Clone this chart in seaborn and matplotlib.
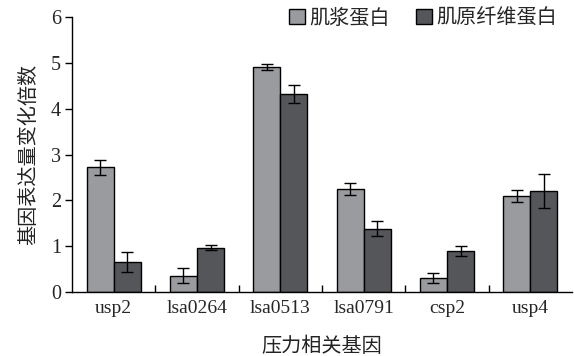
import numpy as np
import pandas as pd
import matplotlib
matplotlib.use("Agg")
import matplotlib.pyplot as plt
from matplotlib.container import BarContainer
import seaborn as sns

genes = ["usp2", "lsa0264", "lsa0513", "lsa0791", "csp2", "usp4"]
series = ["肌浆蛋白", "肌原纤维蛋白"]
sarco_vals = [2.72, 0.35, 4.92, 2.24, 0.29, 2.09]
sarco_err = [0.16, 0.16, 0.07, 0.13, 0.11, 0.13]
myofib_vals = [0.65, 0.96, 4.32, 1.38, 0.89, 2.21]
myofib_err = [0.22, 0.05, 0.20, 0.16, 0.11, 0.37]
yticks = [0, 1, 2, 3, 4, 5, 6]

sns.set_theme(style="ticks")
plt.rcParams["font.family"] = ["Liberation Serif", "Noto Sans CJK SC"]
cjk = ["Noto Sans CJK SC", "DejaVu Sans"]

df = pd.DataFrame({
    "gene": genes * 2,
    "group": [series[0]] * len(genes) + [series[1]] * len(genes),
    "value": sarco_vals + myofib_vals,
})
errs = [sarco_err, myofib_err]
vals = [sarco_vals, myofib_vals]

fig = plt.figure(figsize=(5.74, 3.56), dpi=100)
ax = fig.add_axes([0.1254, 0.181, 0.8711, 0.770])
palette = ["#9a9b9f", "#55565a"]
sns.barplot(data=df, x="gene", y="value", hue="group", order=genes,
            hue_order=series, palette=palette, errorbar=None, width=0.65,
            edgecolor="black", linewidth=1.0, saturation=1, ax=ax)

bar_groups = [c for c in ax.containers if isinstance(c, BarContainer)]
for k, cont in enumerate(bar_groups):
    for j, patch in enumerate(cont.patches):
        xc = patch.get_x() + patch.get_width() / 2
        ax.errorbar(xc, vals[k][j], yerr=errs[k][j], fmt="none",
                    ecolor="black", elinewidth=1.0, capsize=4, capthick=1.0)

ax.set_xlim(-0.5, len(genes) - 0.5)
ax.set_ylim(0, 6)
ax.set_yticks(yticks)
ax.set_yticklabels([str(t) for t in yticks], fontsize=14.5)
ax.set_xticks(range(len(genes)))
ax.set_xticklabels(genes, fontsize=14)
ax.tick_params(axis="x", length=0, pad=6)
ax.set_xticks(np.arange(0.5, len(genes) - 0.5, 1.0), minor=True)
ax.tick_params(axis="x", which="minor", direction="in", length=5, width=1.0, color="black")
ax.tick_params(axis="y", direction="out", length=5, width=1.0, color="black", pad=3)
for s in ["top", "right"]:
    ax.spines[s].set_visible(False)
for s in ["left", "bottom"]:
    ax.spines[s].set_linewidth(1.0)
    ax.spines[s].set_color("black")

ax.set_ylabel("基因表达量变化倍数", fontsize=14.5, family=cjk, color="#222222", labelpad=8)
ax.set_xlabel("压力相关基因", fontsize=14.5, family=cjk, color="#222222", labelpad=14)

leg = ax.legend(loc="center right", bbox_to_anchor=(557 / 574, 1 - 18 / 356),
                bbox_transform=fig.transFigure, ncol=2, frameon=False,
                prop={"family": cjk, "size": 14.5}, handlelength=0.8, handleheight=0.75,
                handletextpad=0.2, columnspacing=1.3, borderaxespad=0, borderpad=0)
for h in leg.legend_handles:
    h.set_edgecolor("black")
    h.set_linewidth(1.0)

fig.savefig("out.png", dpi=100)
